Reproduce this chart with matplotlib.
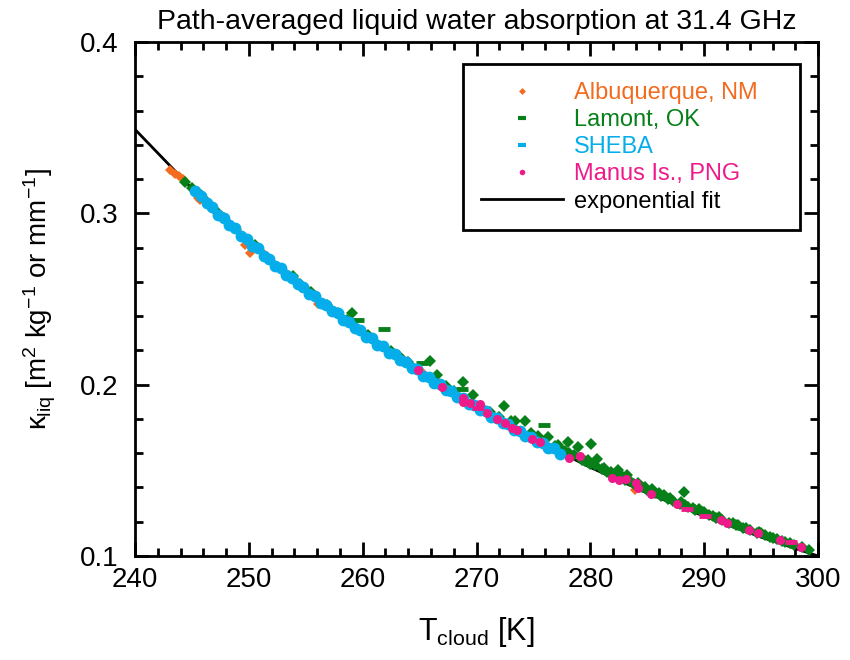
import matplotlib
matplotlib.use("Agg")
import matplotlib.pyplot as plt
from matplotlib.lines import Line2D
from matplotlib.ticker import MultipleLocator

plt.rcParams["font.family"] = ["Liberation Sans", "DejaVu Sans"]
plt.rcParams["mathtext.fontset"] = "custom"
plt.rcParams["mathtext.rm"] = "Liberation Sans"
plt.rcParams["mathtext.it"] = "Liberation Sans"

# exponential fit
fit_t = [240, 245, 250, 255, 260, 265, 270, 275, 280, 285, 290, 295, 300]
fit_k = [0.349, 0.3145, 0.2834, 0.2553, 0.2301, 0.2073, 0.1868, 0.1683,
         0.1517, 0.1367, 0.1232, 0.1110, 0.1000]

# Albuquerque, NM
abq_t = [243.1, 243.5, 243.9, 244.2, 245.5, 245.7, 246.4, 248.2, 249.0, 249.7,
         250.1, 251.2, 252.1, 252.9, 254.0, 255.1, 255.3, 256.1, 256.6, 257.5,
         258.8, 260.2, 261.0, 263.5, 263.9, 265.2, 283.9]
abq_k = [0.3250, 0.3230, 0.3215, 0.3200, 0.3090, 0.3075, 0.3055, 0.2950, 0.2900, 0.2815,
         0.2770, 0.2775, 0.2710, 0.2670, 0.2620, 0.2555, 0.2545, 0.2470, 0.2470, 0.2430,
         0.2365, 0.2295, 0.2255, 0.2150, 0.2130, 0.2075, 0.1385]

# Lamont, OK
lam_t = [244.4, 245.0, 245.8, 246.3, 246.8, 247.3, 247.8, 250.5, 253.9, 254.5,
         255.5, 256.9, 257.8, 258.6, 259.1, 260.5, 262.5, 263.2, 264.0, 265.9,
         266.5, 267.3, 268.0, 268.8, 269.7, 270.5, 271.2, 272.0, 272.4, 273.0,
         273.4, 274.3, 274.8, 275.4, 276.3, 276.9, 277.5, 278.0, 278.1, 278.9,
         279.3, 280.1, 280.0, 280.6, 281.0, 281.5, 282.0, 282.4, 283.0, 283.2,
         283.8, 284.5, 285.0, 285.7, 286.2, 286.8, 287.3, 287.9, 288.2, 288.6,
         289.2, 289.8, 290.4, 291.0, 291.6, 292.2, 292.8, 293.4, 294.0, 294.6,
         295.3, 296.0, 296.8, 297.5, 299.2,
         277.2, 279.8, 281.2, 282.7, 284.2, 285.4, 286.5, 288.0, 289.5, 291.3,
         293.0, 294.8,
         277.8, 278.6, 279.5, 280.4, 281.8, 283.5, 284.8, 286.0, 287.0, 288.3,
         289.0, 290.0, 290.8, 292.5, 293.7, 295.0, 295.8, 296.4, 297.1, 297.9,
         298.6]
lam_k = [0.3180, 0.3150, 0.3105, 0.3067, 0.3035, 0.3000, 0.2970, 0.2815, 0.2635, 0.2590,
         0.2540, 0.2465, 0.2420, 0.2380, 0.2418, 0.2290, 0.2195, 0.2165, 0.2130, 0.2138,
         0.2057, 0.1995, 0.1965, 0.2016, 0.1940, 0.1865, 0.1840, 0.1810, 0.1876, 0.1790,
         0.1790, 0.1790, 0.1720, 0.1700, 0.1695, 0.1640, 0.1620, 0.1665, 0.1600, 0.1636,
         0.1560, 0.1654, 0.1535, 0.1566, 0.1505, 0.1490, 0.1475, 0.1500, 0.1445, 0.1473,
         0.1420, 0.1400, 0.1385, 0.1365, 0.1350, 0.1333, 0.1318, 0.1302, 0.1373, 0.1285,
         0.1270, 0.1254, 0.1238, 0.1223, 0.1208, 0.1194, 0.1180, 0.1165, 0.1150, 0.1137,
         0.1121, 0.1105, 0.1088, 0.1073, 0.1035,
         0.1645, 0.1560, 0.1515, 0.1470, 0.1425, 0.1390, 0.1355, 0.1315, 0.1275, 0.1228,
         0.1183, 0.1140,
         0.1612, 0.1590, 0.1555, 0.1530, 0.1490, 0.1440, 0.1400, 0.1365, 0.1338, 0.1300,
         0.1282, 0.1255, 0.1235, 0.1193, 0.1163, 0.1133, 0.1113, 0.1100, 0.1084, 0.1066,
         0.1050]
lam_dash_t = [259.6, 261.9, 265.2, 268.7, 275.9]
lam_dash_k = [0.2378, 0.2325, 0.2127, 0.1975, 0.1765]

# SHEBA
sheba_t = [245.3, 245.8, 246.3, 246.8, 247.3, 247.8, 248.3, 248.8, 249.3, 249.8,
           250.3, 250.8, 251.3, 251.8, 252.3, 252.8, 253.3, 253.8, 254.3, 254.8,
           255.3, 255.8, 256.3, 256.8, 257.3, 257.8, 258.3, 258.8, 259.3, 259.8,
           260.3, 260.8, 261.3, 261.8, 262.3, 262.8, 263.3, 263.8, 264.3, 264.8,
           265.3, 265.8, 266.3, 266.8, 267.3, 267.8, 268.3, 268.8, 269.3, 269.8,
           270.3, 270.8, 271.3, 271.8, 272.3, 272.8, 273.3, 273.8, 274.3, 274.8,
           275.3, 275.8, 276.3, 276.8, 277.3]
sheba_k = [0.3130, 0.3100, 0.3058, 0.3035, 0.2992, 0.2972, 0.2930, 0.2912, 0.2870, 0.2852,
           0.2812, 0.2795, 0.2753, 0.2736, 0.2695, 0.2680, 0.2640, 0.2625, 0.2585, 0.2570,
           0.2530, 0.2518, 0.2478, 0.2466, 0.2427, 0.2416, 0.2378, 0.2366, 0.2328, 0.2318,
           0.2280, 0.2270, 0.2232, 0.2223, 0.2186, 0.2177, 0.2141, 0.2133, 0.2097, 0.2089,
           0.2053, 0.2046, 0.2011, 0.2004, 0.1970, 0.1963, 0.1929, 0.1923, 0.1889, 0.1883,
           0.1850, 0.1845, 0.1812, 0.1806, 0.1774, 0.1768, 0.1737, 0.1732, 0.1701, 0.1696,
           0.1666, 0.1662, 0.1632, 0.1628, 0.1598]

# Manus Is., PNG
manus_t = [264.9, 267.0, 268.8, 268.8, 269.4, 270.3, 270.9, 271.8, 272.5, 273.1,
           273.6, 274.9, 275.6, 278.1, 279.1, 281.9, 282.5, 283.1, 284.0, 284.2,
           285.3, 287.6, 291.5, 292.0, 293.9, 294.7, 296.7, 298.5]
manus_k = [0.2086, 0.1987, 0.1922, 0.1899, 0.1893, 0.1887, 0.1835, 0.1800, 0.1776, 0.1747,
           0.1736, 0.1683, 0.1665, 0.1569, 0.1584, 0.1455, 0.1444, 0.1452, 0.1426, 0.1395,
           0.1360, 0.1304, 0.1210, 0.1193, 0.1152, 0.1134, 0.1093, 0.1053]
manus_dash_t = [270.1, 288.5, 290.1, 297.6]
manus_dash_k = [0.1864, 0.1274, 0.1233, 0.1082]

orange = "#F26B1F"
green = "#08801A"
blue = "#05AEEA"
pink = "#EE1A8A"

fig = plt.figure(figsize=(8.5, 6.6), dpi=100)
ax = fig.add_axes([0.1588, 0.1576, 0.8036, 0.7788])

ax.plot(fit_t, fit_k, color="black", lw=2, zorder=1)
ax.plot(abq_t, abq_k, "D", color=orange, ms=5.5, mew=0, zorder=2)
ax.plot(lam_t, lam_k, "D", color=green, ms=6, mew=0, zorder=3)
ax.plot(lam_dash_t, lam_dash_k, "_", color=green, ms=9, mew=3.5, zorder=3)
ax.plot(sheba_t, sheba_k, "o", color=blue, ms=8.5, mew=0, zorder=4)
ax.plot(manus_t, manus_k, "o", color=pink, ms=6.5, mew=0, zorder=5)
ax.plot(manus_dash_t, manus_dash_k, "_", color=pink, ms=9, mew=3.5, zorder=5)

ax.set_xlim(240, 300)
ax.set_ylim(0.1, 0.4)
ax.xaxis.set_major_locator(MultipleLocator(10))
ax.xaxis.set_minor_locator(MultipleLocator(2))
ax.yaxis.set_major_locator(MultipleLocator(0.1))
ax.yaxis.set_minor_locator(MultipleLocator(0.02))
ax.tick_params(which="both", direction="in", top=True, right=True, width=2,
               labelsize=20)
ax.tick_params(which="major", length=10)
ax.tick_params(which="minor", length=6)
ax.tick_params(axis="x", pad=8)
ax.tick_params(axis="y", pad=12)
for s in ax.spines.values():
    s.set_linewidth(2)

ax.set_xlabel(r"T$_{\rm cloud}$ [K]", fontsize=22, labelpad=16)
ax.set_ylabel(r"$\kappa_{\rm liq}$ [m$^2$ kg$^{-1}$ or mm$^{-1}$]", fontsize=20)
ax.yaxis.set_label_coords(-0.112, 0.5)
ax.set_title("Path-averaged liquid water absorption at 31.4 GHz", fontsize=20.5,
             pad=9)

handles = [
    Line2D([], [], ls="none", marker="D", color=orange, ms=3.5, mew=0),
    Line2D([], [], ls="none", marker="_", color=green, ms=6, mew=3),
    Line2D([], [], ls="none", marker="_", color=blue, ms=6, mew=3),
    Line2D([], [], ls="none", marker="o", color=pink, ms=4, mew=0),
    Line2D([], [], color="black", lw=2),
]
labels = ["Albuquerque, NM", "Lamont, OK", "SHEBA", "Manus Is., PNG",
          "exponential fit"]
leg = ax.legend(handles, labels, loc="upper left",
                bbox_to_anchor=(0.48, 0.634, 0.494, 0.323), mode="expand",
                borderaxespad=0, fontsize=17, handlelength=3.5, handletextpad=0.45,
                labelspacing=0.22, fancybox=False, framealpha=1, edgecolor="black",
                borderpad=0.75)
leg.get_frame().set_linewidth(2)
for txt, c in zip(leg.get_texts(), [orange, green, blue, pink, "black"]):
    txt.set_color(c)

fig.savefig("out.png", dpi=100)
